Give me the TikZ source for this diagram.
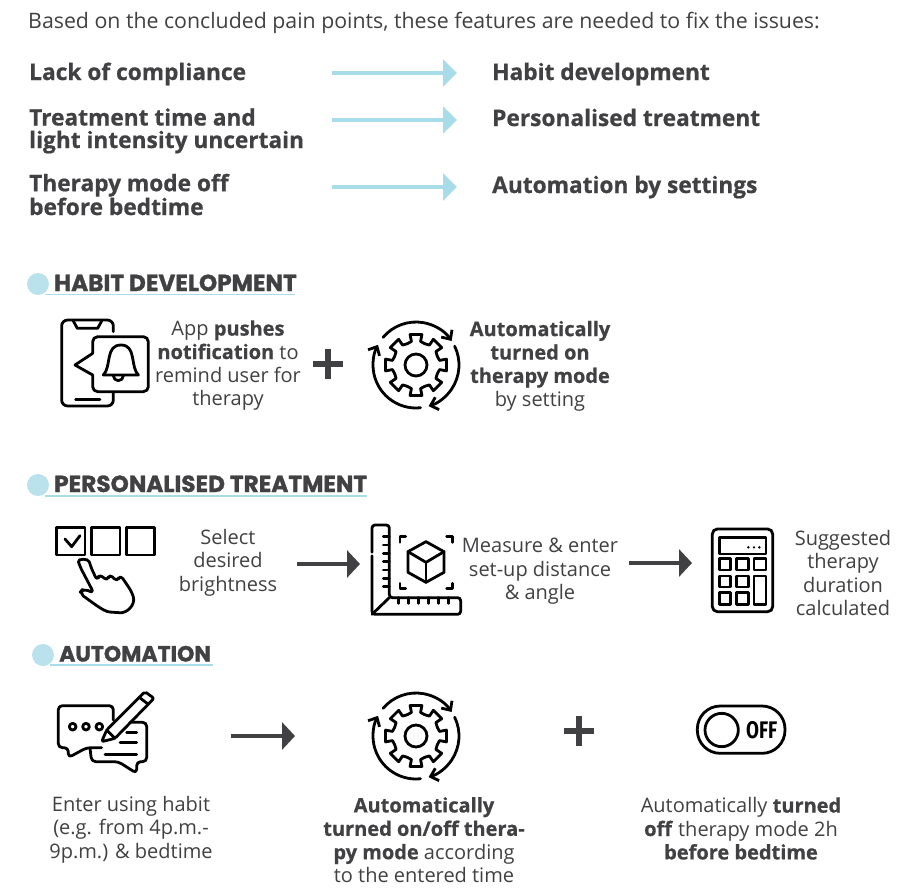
\documentclass[tikz,border=0pt]{standalone}
\usepackage{fontspec}
\setmainfont[BoldFeatures={FakeBold=0.7}]{Open Sans}
\newfontfamily\headfont[BoldFeatures={FakeBold=1.2}]{Poppins}
\newfontfamily\offfont[FakeStretch=0.78]{Fira Sans}
\usetikzlibrary{arrows.meta}
\definecolor{inkgrey}{HTML}{414042}
\definecolor{paleblue}{HTML}{A8DCE8}
\definecolor{bulletblue}{HTML}{B9E2EC}
\tikzset{
  bodytext/.style={inner sep=0pt,align=center,text=inkgrey,font=\fontsize{20}{23.4}\selectfont},
  introtext/.style={inner sep=0pt,text=inkgrey,font=\fontsize{21.3}{23.4}\selectfont},
  keytext/.style={inner sep=0pt,align=left,text=inkgrey,font=\fontsize{22.7}{22.5}\selectfont\bfseries},
  headtext/.style={inner sep=0pt,anchor=base west,text=inkgrey,font=\fontsize{23.2}{23}\selectfont\headfont\bfseries},
  bluearrow/.style={paleblue,line width=4.5pt,-{Triangle[length=14pt,width=27pt]}},
  greyarrow/.style={inkgrey,line width=4pt,-{Triangle[length=13pt,width=27pt]}},
  plussign/.style={inkgrey,line width=5.5pt},
  iconline/.style={line width=2.8pt,line join=round,line cap=round},
  pics/gearloop/.style={code={
    \foreach \a in {0,45,...,315}{
      \draw[iconline] (\a-22.5:23) -- (\a-11:24) -- (\a-11:31) -- (\a+11:31) -- (\a+11:24) -- (\a+22.5:23);
    }
    \draw[iconline] (0,0) circle (11);
    \draw[iconline,-{Straight Barb[length=7pt,width=13pt]}] (-140:43) arc[start angle=-140,end angle=-34,radius=43];
    \draw[iconline,-{Straight Barb[length=7pt,width=13pt]}] (-26:43) arc[start angle=-26,end angle=73,radius=43];
    \draw[iconline,-{Straight Barb[length=7pt,width=13pt]}] (84:43) arc[start angle=84,end angle=208,radius=43];
  }}
}
\begin{document}
\begin{tikzpicture}[x=1pt,y=-1pt]
\useasboundingbox (0,0) rectangle (905,895);

\node[introtext,anchor=base west] (intro) at (28,28) {Based on the concluded pain points, these features are needed to fix the issues:};

\node[keytext,anchor=base west] (lack) at (29,80) {Lack of compliance};
\node[keytext,anchor=base west] (uncertain) at (29,148) {Treatment time and\\light intensity uncertain};
\node[keytext,anchor=base west] (modeoff) at (29,215) {Therapy mode off\\before bedtime};
\node[keytext,anchor=base west] (habit) at (492,80) {Habit development};
\node[keytext,anchor=base west] (personal) at (492,126) {Personalised treatment};
\node[keytext,anchor=base west] (settings) at (492,193) {Automation by settings};

\coordinate (lackout) at (332,73);
\coordinate (habitin) at (457,73);
\coordinate (uncertainout) at (332,120);
\coordinate (personalin) at (457,120);
\coordinate (modeout) at (332,187);
\coordinate (settingsin) at (457,187);
\draw[bluearrow] (lackout) -- (habitin);
\draw[bluearrow] (uncertainout) -- (personalin);
\draw[bluearrow] (modeout) -- (settingsin);

\draw[paleblue,line width=1.5pt] (45,294.5) -- (295,294.5);
\fill[bulletblue] (38,284) circle (11);
\node[headtext] (habithead) at (54,291) {HABIT DEVELOPMENT};

\draw[paleblue,line width=1.5pt] (45,496) -- (367,496);
\fill[bulletblue] (38,485) circle (11);
\node[headtext] (personalhead) at (54,492) {PERSONALISED TREATMENT};

\draw[paleblue,line width=1.5pt] (50,665) -- (213,665);
\fill[bulletblue] (43,655) circle (11);
\node[headtext,font=\fontsize{22}{22}\selectfont\headfont\bfseries] (autohead) at (59,661.5) {AUTOMATION};

\begin{scope}[shift={(20,260)},scale=1/3]
\draw[iconline,rounded corners=6pt] (280,215) -- (280,180) -- (125,180) -- (125,438) -- (280,438) -- (280,397);
\draw[iconline] (160,183) -- (172,205) -- (233,205) -- (245,183);
\draw[iconline] (167,418) -- (240,418);
\draw[iconline,rounded corners=5pt] (218,280) -- (218,230) -- (385,230) -- (385,395) -- (218,395) -- (218,345);
\draw[iconline] (218,280) -- (165,315) -- (218,345);
\draw[iconline] (250,345) .. controls (275,320) and (255,255) .. (303,255) .. controls (350,255) and (330,320) .. (355,345) -- cycle;
\draw[iconline] (280,347) arc[start angle=180,end angle=0,radius=15];
\end{scope}

\node[bodytext] (pushtext) at (228,365.5) {App \textbf{pushes}\\\textbf{notification} to\\remind user for\\therapy};
\draw[plussign] (313,364) -- (343,364);
\draw[plussign] (328,349) -- (328,379);
\pic at (416,365) {gearloop};
\node[bodytext] (ontext) at (540,366) {\textbf{Automatically}\\\textbf{turned on}\\\textbf{therapy mode}\\by setting};

\begin{scope}[shift={(20,465)},scale=1/3]
\draw[iconline] (110,187) rectangle (195,270);
\draw[iconline] (215,187) rectangle (300,270);
\draw[iconline] (320,187) rectangle (403,270);
\draw[iconline] (135,222) -- (155,245) -- (180,212);
\draw[iconline,rounded corners=5pt] (222,385) -- (180,305) .. controls (172,280) and (205,280) .. (212,305) -- (232,348) -- (238,325) -- (262,350) -- (268,325) -- (292,352) -- (300,328) -- (335,380) .. controls (348,420) and (320,445) .. (285,442) .. controls (250,440) and (215,410) .. (178,385) -- (190,370) -- cycle;
\end{scope}
\node[bodytext] (selecttext) at (228,562.5) {Select\\desired\\brightness};

\coordinate (selectout) at (297,564);
\coordinate (rulerin) at (360,564);
\draw[greyarrow] (selectout) -- (rulerin);

\begin{scope}[shift={(20,465)},scale=1/3]
\draw[iconline,rounded corners=3pt] (1056,262) -- (1056,180) -- (1108,180) -- (1108,398) -- (1322,398) -- (1322,448) -- (1056,448) -- (1056,272);
\draw[iconline] (1056,448) -- (1108,398);
\foreach \y in {215,240,265,290,315,340,365}{
  \draw[iconline] (1108,\y) -- (1090,\y);
}
\foreach \x in {1135,1165,1195,1225,1255,1285}{
  \draw[iconline] (\x,398) -- (\x,415);
}
\draw[iconline] (1218,230) -- (1272,260) -- (1272,322) -- (1218,352) -- (1164,322) -- (1164,260) -- cycle;
\draw[iconline] (1164,260) -- (1218,292) -- (1272,260);
\draw[iconline] (1218,292) -- (1218,352);
\draw[iconline] (1140,232) -- (1140,215) -- (1157,215);
\draw[iconline] (1280,215) -- (1297,215) -- (1297,232);
\draw[iconline] (1140,355) -- (1140,370) -- (1157,370);
\draw[iconline] (1280,370) -- (1297,370) -- (1297,355);
\end{scope}
\node[bodytext] (measuretext) at (540,571.5) {Measure \& enter\\set-up distance\\\& angle};

\coordinate (measureout) at (629,563);
\coordinate (calcin) at (692,563);
\draw[greyarrow] (measureout) -- (calcin);

\begin{scope}[shift={(690,515)},scale=1/3]
\draw[iconline,rounded corners=5pt] (67,42) rectangle (248,290);
\draw[iconline] (88,68) rectangle (228,117);
\foreach \x in {175,192,208}{
  \fill[black] (\x,97) circle (4);
}
\foreach \x/\w in {88/122,140/175,192/228}{
  \draw[iconline] (\x,130) rectangle (\w,165);
}
\foreach \x/\w in {88/122,140/175}{
  \draw[iconline] (\x,183) rectangle (\w,216);
  \draw[iconline] (\x,233) rectangle (\w,268);
}
\draw[iconline] (192,183) rectangle (228,268);
\end{scope}
\node[bodytext] (suggesttext) at (843,573) {Suggested\\therapy\\duration\\calculated};

\begin{scope}[shift={(30,635)},scale=1/3]
\draw[iconline,rounded corners=4pt] (250,255) -- (250,212) -- (85,212) -- (85,338) -- (115,338) -- (115,368) -- (170,338) -- (215,338);
\draw[iconline,rounded corners=4pt] (300,262) -- (350,262) -- (350,380) -- (320,380) -- (320,415) -- (265,380) -- (185,380) -- (180,340);
\foreach \x in {128,168,208}{
  \draw[iconline] (\x,275) circle (10);
}
\draw[iconline,rounded corners=2pt] (215,320) -- (230,285) -- (345,170) -- (372,190) -- (255,310) -- cycle;
\draw[iconline] (230,285) -- (255,310);
\draw[iconline] (328,187) -- (355,208);
\draw[iconline] (290,292) -- (320,292);
\draw[iconline] (270,322) -- (320,322);
\draw[iconline] (225,358) -- (320,358);
\end{scope}
\node[bodytext] (entertext) at (131,829.5) {Enter using habit\\(e.g. from 4p.m.-\\9p.m.) \& bedtime};

\coordinate (enterout) at (231,736);
\coordinate (gearin) at (295,736);
\draw[greyarrow] (enterout) -- (gearin);

\pic at (416,736) {gearloop};
\node[bodytext] (onofftext) at (424,840) {\textbf{Automatically}\\\textbf{turned on/off thera-}\\\textbf{py mode} according\\to the entered time};

\draw[plussign] (564,731) -- (594,731);
\draw[plussign] (579,716) -- (579,746);

\begin{scope}[shift={(680,690)},scale=1/3]
\draw[iconline,rounded corners=23pt] (52,48) rectangle (315,190);
\draw[iconline] (125,120) circle (50);
\node[inner sep=0pt,text=black,font=\fontsize{24}{24}\selectfont\offfont\bfseries] (offlabel) at (245,121) {OFF};
\end{scope}
\node[bodytext] (offtext) at (741,828.5) {Automatically \textbf{turned}\\\textbf{off} therapy mode 2h\\\textbf{before bedtime}};
\end{tikzpicture}
\end{document}
